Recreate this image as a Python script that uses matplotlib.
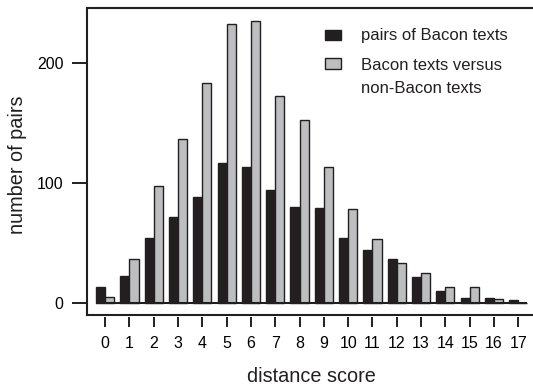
import matplotlib
matplotlib.use("Agg")
import matplotlib.pyplot as plt
from matplotlib.patches import Rectangle
import numpy as np

plt.rcParams['font.family'] = ['Liberation Sans', 'DejaVu Sans']

scores = list(range(18))
bacon_pairs = [13, 22, 54, 71, 88, 116, 113, 94, 80, 79, 54, 44, 36, 21, 10, 3.5, 3.5, 2]
bacon_vs_non = [5, 36, 97, 136, 183, 232, 235, 172, 152, 113, 78, 53, 33, 25, 13, 13, 3, 0]
label_pairs = "pairs of Bacon texts"
label_vs = "Bacon texts versus\nnon-Bacon texts"
xlabel = "distance score"
ylabel = "number of pairs"
yticks = [0, 100, 200]

W, H = 533, 387
DARK = "#231f20"
GRAY = "#bcbec0"

fig = plt.figure(figsize=(W / 100, H / 100), dpi=100)
L, R, T, B = 86.7, 535.0, 8.3, 315.0
ax = fig.add_axes([L / W, 1 - B / H, (R - L) / W, (B - T) / H])

x = np.arange(len(scores))
w = 0.375
ax.bar(x - w / 2, bacon_pairs, width=w, color=DARK, edgecolor=DARK, linewidth=1.0)
ax.bar(x + w / 2, bacon_vs_non, width=w, color=GRAY, edgecolor=DARK, linewidth=1.0)
ax.hlines(0, x[0] - w, x[-1] + w, color=DARK, linewidth=1.5, zorder=3)

ax.set_xlim(-0.761, 17.69)
ax.set_ylim(-10.25, 245.3)

for s in ax.spines.values():
    s.set_linewidth(1.5)
    s.set_color(DARK)

ax.set_yticks(yticks)
ax.tick_params(axis='y', length=10.8, width=1.4, pad=6, labelsize=11.5, color=DARK)
ax.set_xticks([])

sec = ax.secondary_xaxis(-0.0055)
sec.set_xticks(x)
sec.set_xticklabels([str(s) for s in scores])
sec.spines['bottom'].set_visible(False)
sec.tick_params(axis='x', length=7.2, width=1.4, pad=6.8, labelsize=11.5, color=DARK)

def fx(px):
    return px / W

def fy(py):
    return 1 - py / H

fig.text(fx(311.3), fy(381.7), xlabel, ha='center', va='baseline', fontsize=14.3, color=DARK)
fig.text(fx(18), fy(164.5), ylabel, ha='center', va='center', rotation=90, fontsize=14.3, color=DARK)

# legend
for (y0, y1), fc in [((30, 40.3), DARK), ((58.3, 69), GRAY)]:
    fig.patches.append(Rectangle((fx(325), fy(y1)), fx(340.7) - fx(325), fy(y0) - fy(y1),
                                 transform=fig.transFigure, facecolor=fc, edgecolor=DARK,
                                 linewidth=1.0))
fig.text(fx(361), fy(40), label_pairs, ha='left', va='baseline', fontsize=12, color=DARK)
fig.text(fx(361), fy(70), label_vs.split("\n")[0], ha='left', va='baseline', fontsize=12, color=DARK)
fig.text(fx(361), fy(92.7), label_vs.split("\n")[1], ha='left', va='baseline', fontsize=12, color=DARK)

fig.savefig("out.png", dpi=100)
